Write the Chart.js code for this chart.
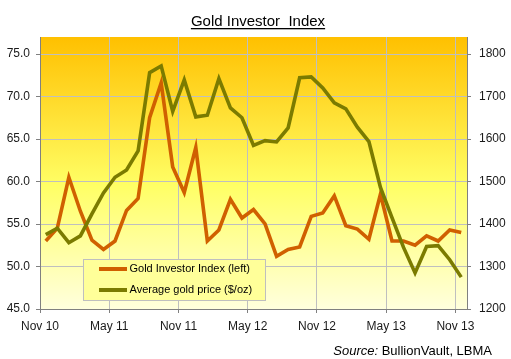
<!DOCTYPE html>
<html>
<head>
<meta charset="utf-8">
<script src="https://cdn.jsdelivr.net/npm/chart.js@4"></script>
<style>
  html, body { margin: 0; padding: 0; background: #fff; }
  #wrap { width: 511px; height: 359px; }
</style>
</head>
<body>
<div id="wrap"><canvas id="chart" width="511" height="359"></canvas></div>
<script>
const chartCanvas = document.getElementById('chart');
const ctx = chartCanvas.getContext('2d');

// monthly values, Nov 2010 .. Nov 2013
const tickLabels = ['Nov 10', 'May 11', 'Nov 11', 'May 12', 'Nov 12', 'May 13', 'Nov 13'];
const investorIndex = [53.0, 54.5, 60.5, 56.5, 53.1, 52.0, 53.0, 56.6, 58.0, 67.5,
  71.6, 61.7, 58.7, 64.0, 53.0, 54.3, 57.9, 55.7, 56.7, 55.0,
  51.2, 52.0, 52.3, 55.9, 56.3, 58.3, 54.8, 54.4, 53.2, 58.5,
  53.0, 53.0, 52.5, 53.6, 53.0, 54.3, 54.0];
const goldPrice = [1375, 1390, 1356, 1372, 1424, 1473, 1510, 1527, 1572, 1756,
  1772, 1665, 1739, 1652, 1656, 1742, 1673, 1650, 1585, 1596,
  1593, 1626, 1744, 1746, 1720, 1685, 1671, 1628, 1594, 1486,
  1415, 1345, 1285, 1347, 1349, 1316, 1275];

const font = 'Liberation Sans, Arial, sans-serif';

// points sit in the middle of each month
const toPoints = arr => arr.map((v, i) => ({ x: i + 0.5, y: v }));

const decorPlugin = {
  id: 'decor',
  beforeDraw(chart) {
    const c = chart.ctx;
    const a = chart.chartArea;
    c.save();
    c.fillStyle = '#fff';
    c.fillRect(0, 0, chart.width, chart.height);
    const g = c.createLinearGradient(0, a.top, 0, a.bottom);
    g.addColorStop(0, '#FFC000');
    g.addColorStop(0.55, '#FFFF66');
    g.addColorStop(1, '#FFFFDD');
    c.fillStyle = g;
    c.fillRect(a.left, a.top, a.right - a.left, a.bottom - a.top);
    c.restore();
  },
  afterDraw(chart) {
    const c = chart.ctx;
    c.save();
    // title
    c.font = '15px ' + font;
    c.fillStyle = '#000';
    c.textAlign = 'center';
    c.textBaseline = 'alphabetic';
    const title = 'Gold Investor  Index';
    c.fillText(title, 258, 26);
    const tw = c.measureText(title).width;
    c.fillRect(258 - tw / 2, 28, tw, 1.3);

    // source
    c.textAlign = 'left';
    c.font = '13px ' + font;
    const rest = ' BullionVault, LBMA';
    const rw = c.measureText(rest).width;
    c.font = 'italic 13px ' + font;
    const sw = c.measureText('Source:').width;
    const sx = 492 - rw - sw;
    c.fillText('Source:', sx, 355);
    c.font = '13px ' + font;
    c.fillText(rest, sx + sw, 355);

    // legend box
    c.fillStyle = '#FFFF99';
    c.fillRect(83, 259, 182, 41);
    c.strokeStyle = '#BFBFBF';
    c.lineWidth = 1;
    c.strokeRect(83.5, 259.5, 182, 41);
    const rows = [0, 1];
    c.font = '11px ' + font;
    c.textBaseline = 'middle';
    rows.forEach((idx, r) => {
      const ds = chart.data.datasets[idx];
      const y = 269 + r * 21;
      c.strokeStyle = ds.borderColor;
      c.lineWidth = 4;
      c.beginPath();
      c.moveTo(99, y);
      c.lineTo(127, y);
      c.stroke();
      c.fillStyle = '#000';
      c.fillText(ds.label, 129.5, y);
    });
    c.restore();
  }
};

const chart = new Chart(ctx, {
  type: 'line',
  data: {
    datasets: [{
      label: 'Gold Investor Index (left)',
      data: toPoints(investorIndex),
      borderColor: '#D06000',
      borderWidth: 3.6,
      pointRadius: 0,
      tension: 0,
      yAxisID: 'y',
      order: 1
    }, {
      label: 'Average gold price ($/oz)',
      data: toPoints(goldPrice),
      borderColor: '#7B7B00',
      borderWidth: 3.6,
      pointRadius: 0,
      tension: 0,
      yAxisID: 'y2',
      order: 0
    }]
  },
  options: {
    responsive: false,
    animation: false,
    events: [],
    layout: { padding: { top: 37, left: 0, right: 0, bottom: 0 } },
    plugins: {
      legend: { display: false },
      tooltip: { enabled: false },
      title: { display: false }
    },
    scales: {
      x: {
        type: 'linear',
        min: 0,
        max: 37,
        afterFit: s => { s.height = 50; },
        grid: { color: '#BFBFBF', tickColor: '#808080', tickLength: 4 },
        border: { color: '#808080' },
        ticks: {
          stepSize: 6,
          includeBounds: false,
          autoSkip: false,
          maxRotation: 0,
          padding: 6,
          color: '#1a1a1a',
          font: { family: font, size: 12 },
          callback: v => tickLabels[v / 6]
        }
      },
      y: {
        position: 'left',
        min: 45,
        max: 77,
        afterFit: s => { s.width = 40; },
        grid: { color: '#BFBFBF', tickColor: '#808080', tickLength: 4 },
        border: { color: '#808080' },
        ticks: {
          stepSize: 5,
          includeBounds: false,
          padding: 6,
          color: '#1a1a1a',
          font: { family: font, size: 12 },
          callback: v => v.toFixed(1)
        }
      },
      y2: {
        position: 'right',
        min: 1200,
        max: 1840,
        afterFit: s => { s.width = 44; },
        grid: { drawOnChartArea: false, tickColor: '#808080', tickLength: 4 },
        border: { color: '#808080' },
        ticks: {
          stepSize: 100,
          includeBounds: false,
          padding: 8,
          color: '#1a1a1a',
          font: { family: font, size: 12 },
          callback: v => String(v)
        }
      }
    }
  },
  plugins: [decorPlugin]
});
</script>
</body>
</html>
